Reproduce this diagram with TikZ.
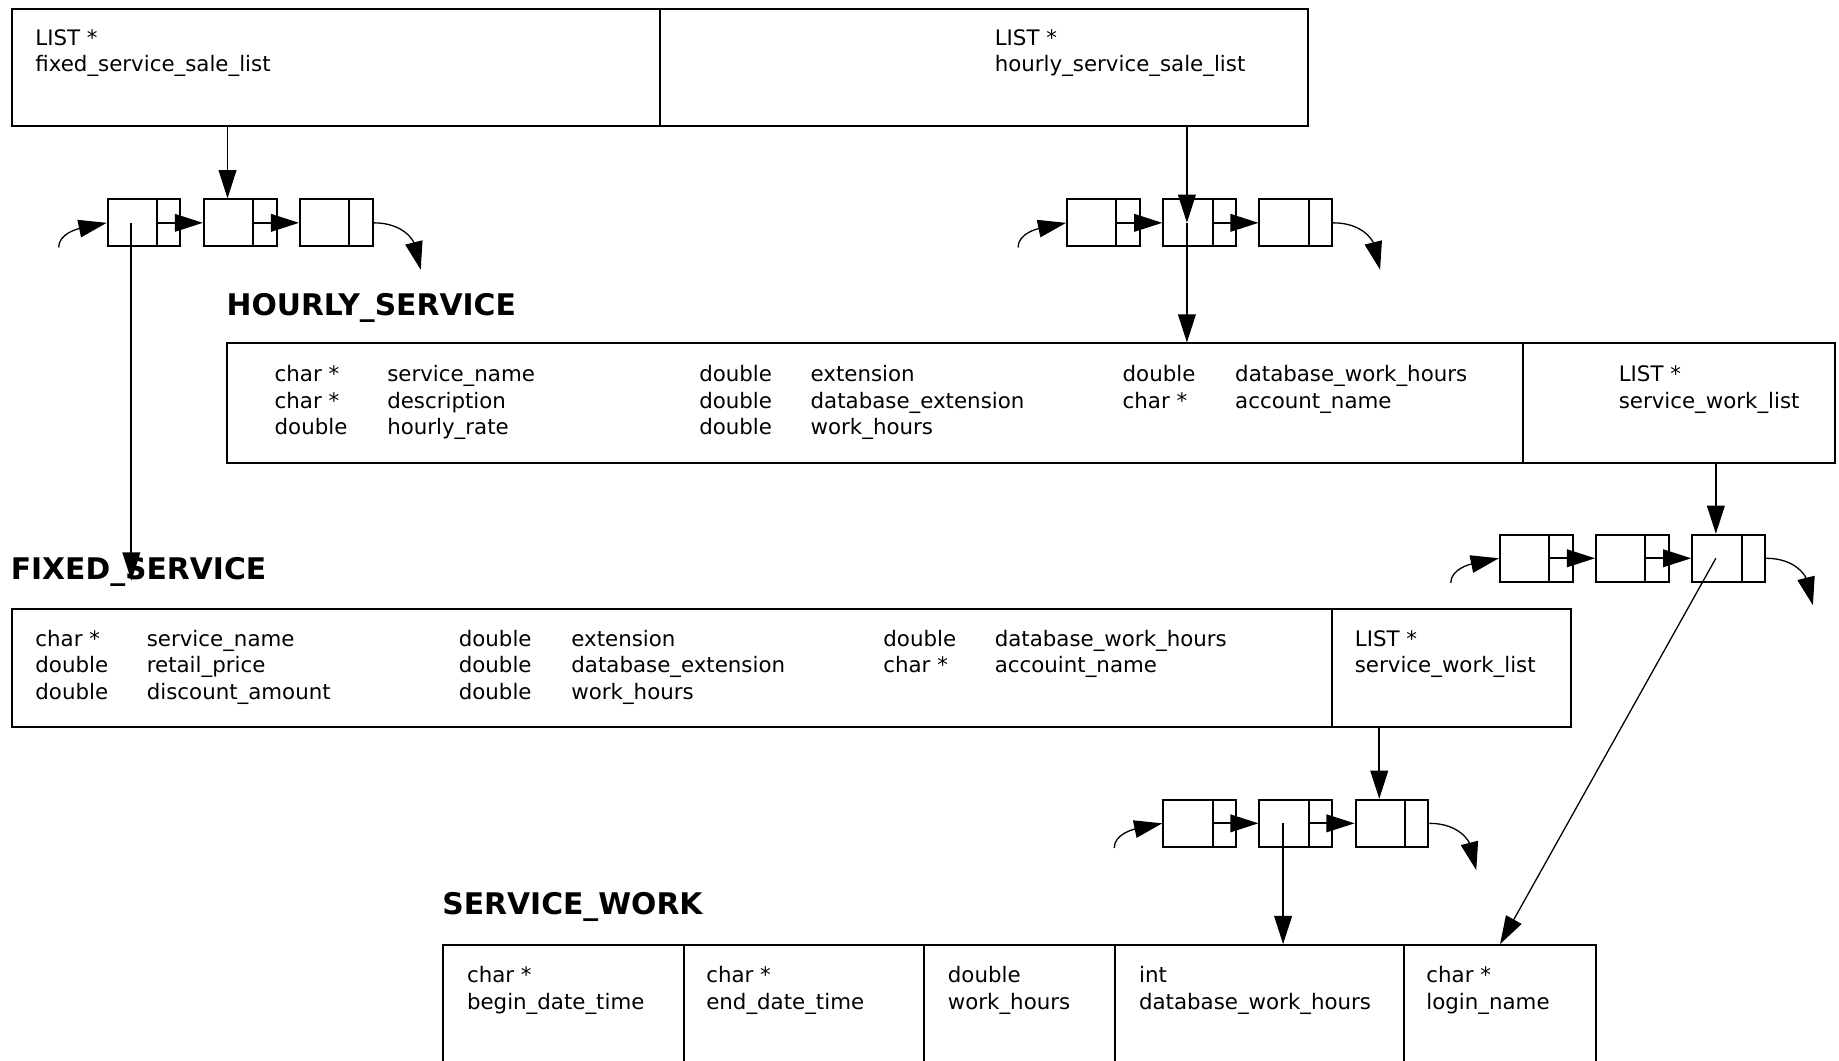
\documentclass[tikz,border=0pt]{standalone}
\usepackage{fontspec}
\setmainfont{DejaVu Sans}
\usetikzlibrary{arrows.meta,calc}
\tikzset{
 txt/.style={anchor=base west, inner sep=0pt, font=\fontsize{18.2}{22.6}\selectfont},
 hd/.style={anchor=base west, inner sep=0pt, font=\fontsize{25.4}{30}\selectfont\bfseries},
 box/.style={draw, line width=1.7pt, rectangle, inner sep=0pt, anchor=north west},
 cell/.style={draw, line width=1.7pt, rectangle, inner sep=0pt, minimum width=62pt,
   minimum height=40pt, anchor=west,
   path picture={\draw[line width=1.7pt] ([xshift=42pt]path picture bounding box.north west)
     -- ([xshift=42pt]path picture bounding box.south west);}},
 arr/.style={line width=1.6pt, -{Triangle[length=24pt,width=15pt]}},
 thinarr/.style={line width=1.1pt, -{Triangle[length=24pt,width=15pt]}},
}
\newcommand\fld[4]{\node[txt] (#1) at (#2,#3) {#4};}
\newcommand\mklist[3]{%
 \node[cell] (#11) at (#2,#3) {};
 \node[cell] (#12) at (#2+82,#3) {};
 \node[cell] (#13) at (#2+164,#3) {};
 \coordinate (#11d) at ([xshift=21pt]#11.west);
 \coordinate (#12d) at ([xshift=21pt]#12.west);
 \coordinate (#13d) at ([xshift=21pt]#13.west);
 \coordinate (#1in) at ($(#11.west)+(-41,21)$);
 \coordinate (#1out) at ($(#13.east)+(40,40)$);
 \draw[arr] ([xshift=42pt]#11.west) -- (#12.west);
 \draw[arr] ([xshift=42pt]#12.west) -- (#13.west);
 \draw[thinarr] (#1in) .. controls +(0,-12) and +(-24,5) .. (#11.west);
 \draw[thinarr] (#13.east) .. controls +(26,0) and +(-6,-24) .. (#1out);
}
\begin{document}
\begin{tikzpicture}[x=1pt,y=-1pt]
\useasboundingbox (0,0) rectangle (1568,904);
\clip (0,0) rectangle (1568,904);
\fill[white] (0,0) rectangle (1568,904);

% top box
\node[box, minimum width=553pt, minimum height=100pt] (tl) at (9,7) {};
\node[box, minimum width=552pt, minimum height=100pt] (tr) at (562,7) {};
\fld{t1}{30}{38.6}{LIST *}
\fld{t2}{30}{61.2}{fixed\_service\_sale\_list}
\fld{t3}{848}{38.6}{LIST *}
\fld{t4}{848}{61.2}{hourly\_service\_sale\_list}

% HOURLY_SERVICE
\node[hd] (hh) at (193,269) {HOURLY\_SERVICE};
\node[box, minimum width=1105pt, minimum height=102pt] (hsL) at (193,292) {};
\node[box, minimum width=266pt, minimum height=102pt] (hsR) at (1298,292) {};
\fld{h1}{234}{325.5}{char *}
\fld{h2}{234}{348.1}{char *}
\fld{h3}{234}{370.7}{double}
\fld{h4}{330}{325.5}{service\_name}
\fld{h5}{330}{348.1}{description}
\fld{h6}{330}{370.7}{hourly\_rate}
\fld{h7}{596}{325.5}{double}
\fld{h8}{596}{348.1}{double}
\fld{h9}{596}{370.7}{double}
\fld{h10}{691}{325.5}{extension}
\fld{h11}{691}{348.1}{database\_extension}
\fld{h12}{691}{370.7}{work\_hours}
\fld{h13}{957}{325.5}{double}
\fld{h14}{957}{348.1}{char *}
\fld{h15}{1053}{325.5}{database\_work\_hours}
\fld{h16}{1053}{348.1}{account\_name}
\fld{h17}{1380}{325.5}{LIST *}
\fld{h18}{1380}{348.1}{service\_work\_list}

% FIXED_SERVICE
\node[hd] (fh) at (9,494) {FIXED\_SERVICE};
\node[box, minimum width=1126pt, minimum height=101pt] (fsL) at (9,518) {};
\node[box, minimum width=204pt, minimum height=101pt] (fsR) at (1135,518) {};
\fld{f1}{30}{551}{char *}
\fld{f2}{30}{573.6}{double}
\fld{f3}{30}{596.2}{double}
\fld{f4}{125}{551}{service\_name}
\fld{f5}{125}{573.6}{retail\_price}
\fld{f6}{125}{596.2}{discount\_amount}
\fld{f7}{391}{551}{double}
\fld{f8}{391}{573.6}{double}
\fld{f9}{391}{596.2}{double}
\fld{f10}{487}{551}{extension}
\fld{f11}{487}{573.6}{database\_extension}
\fld{f12}{487}{596.2}{work\_hours}
\fld{f13}{753}{551}{double}
\fld{f14}{753}{573.6}{char *}
\fld{f15}{848}{551}{database\_work\_hours}
\fld{f16}{848}{573.6}{accouint\_name}
\fld{f17}{1155}{551}{LIST *}
\fld{f18}{1155}{573.6}{service\_work\_list}

% SERVICE_WORK
\node[hd] (wh) at (377,780) {SERVICE\_WORK};
\node[box, minimum width=205pt, minimum height=120pt] (sw1) at (377,805) {};
\node[box, minimum width=205pt, minimum height=120pt] (sw2) at (582,805) {};
\node[box, minimum width=163pt, minimum height=120pt] (sw3) at (787,805) {};
\node[box, minimum width=246pt, minimum height=120pt] (sw4) at (950,805) {};
\node[box, minimum width=164pt, minimum height=120pt] (sw5) at (1196,805) {};
\fld{w1}{398}{838}{char *}
\fld{w2}{398}{860.6}{begin\_date\_time}
\fld{w3}{602}{838}{char *}
\fld{w4}{602}{860.6}{end\_date\_time}
\fld{w5}{808}{838}{double}
\fld{w6}{808}{860.6}{work\_hours}
\fld{w7}{971}{838}{int}
\fld{w8}{971}{860.6}{database\_work\_hours}
\fld{w9}{1216}{838}{char *}
\fld{w10}{1216}{860.6}{login\_name}

% lists
\mklist{la}{91}{190}
\mklist{lb}{909}{190}
\mklist{lc}{1278}{476}
\mklist{ld}{991}{702}

\coordinate (fsTip) at (la1d |- 0,495);
\coordinate (swTip) at ($(sw5.north west)+(83,0)$);

% connectors
\draw[arr] (la2d |- tl.south) -- (la2d |- la2.north);
\draw[arr] (la1d) -- (fsTip);
\draw[arr] (lb2d |- tr.south) -- (lb2d);
\draw[arr] (lb2d) -- (lb2d |- hsL.north);
\draw[arr] (lc3d |- hsR.south) -- (lc3d |- lc3.north);
\draw[thinarr] (lc3d) -- (swTip);
\draw[arr] (ld3d |- fsR.south) -- (ld3d |- ld3.north);
\draw[arr] (ld2d) -- (ld2d |- sw4.north);
\end{tikzpicture}
\end{document}
